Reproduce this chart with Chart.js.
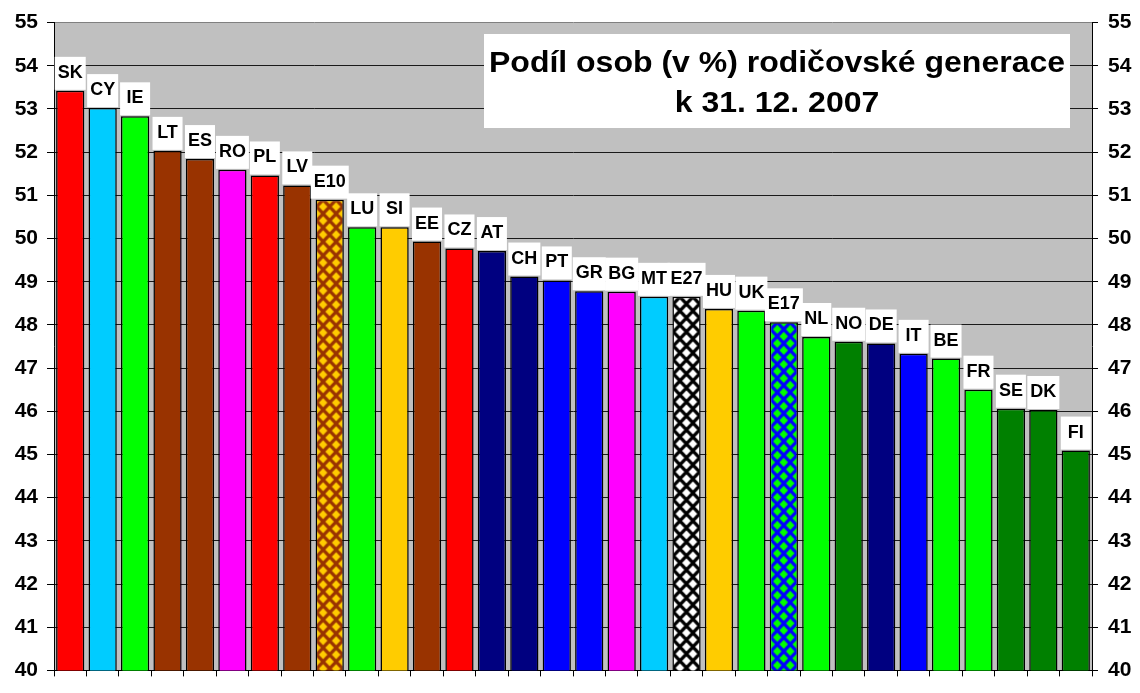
<!DOCTYPE html>
<html>
<head>
<meta charset="utf-8">
<script src="https://cdn.jsdelivr.net/npm/chart.js@4/dist/chart.umd.min.js"></script>
<style>
  html, body { margin: 0; padding: 0; background: #fff; }
  #wrap { width: 1140px; height: 693px; }
</style>
</head>
<body>
<div id="wrap"><canvas id="myChart" width="1140" height="693"></canvas></div>
<script>
// data
var countries = ['SK','CY','IE','LT','ES','RO','PL','LV','E10','LU','SI','EE','CZ','AT','CH','PT',
                 'GR','BG','MT','E27','HU','UK','E17','NL','NO','DE','IT','BE','FR','SE','DK','FI'];
var shares = [53.42,53.02,52.83,52.03,51.84,51.59,51.46,51.23,50.90,50.26,50.26,49.93,49.77,49.71,49.12,49.03,
              48.78,48.77,48.65,48.65,48.37,48.33,48.06,47.72,47.61,47.57,47.33,47.22,46.50,46.06,46.03,45.09];
var barColors = ['#FF0000','#00CCFF','#00FF00','#993300','#993300','#FF00FF','#FF0000','#993300','E10',
                 '#00FF00','#FFCC00','#993300','#FF0000','#000080','#000080','#0000FF',
                 '#0000FF','#FF00FF','#00CCFF','E27','#FFCC00','#00FF00','E17','#00FF00','#008000','#000080',
                 '#0000FF','#00FF00','#00FF00','#008000','#008000','#008000'];
var yMin = 40, yMax = 55, yStep = 1;
var titleLines = ['Podíl osob (v %) rodičovské generace', 'k 31. 12. 2007'];

// diamond patterns for the EU averages
function makePattern(bg, fg){
    var c = document.createElement('canvas');
    c.width = 13; c.height = 14;
    var g = c.getContext('2d');
    g.fillStyle = bg;
    g.fillRect(0, 0, 13, 14);
    g.fillStyle = fg;
    var centres = [[6.5,7],[0,0],[13,0],[0,14],[13,14]];
    centres.forEach(function(p){
        g.beginPath();
        g.moveTo(p[0], p[1]-4.6);
        g.lineTo(p[0]+4.3, p[1]);
        g.lineTo(p[0], p[1]+4.6);
        g.lineTo(p[0]-4.3, p[1]);
        g.closePath();
        g.fill();
    });
    return g.createPattern(c, 'repeat');
}
var ctx = document.getElementById('myChart').getContext('2d');
var patterns = {
    E10: makePattern('#993300', '#FFCC00'),
    E27: makePattern('#000000', '#FFFFFF'),
    E17: makePattern('#0000FF', '#00FF00')
};
var fills = barColors.map(function(c){ return patterns[c] || c; });

var FONT = 'Arial, "Liberation Sans", sans-serif';

var plotBg = {
    id: 'plotBg',
    beforeDraw: function(chart){
        var a = chart.chartArea, c = chart.ctx;
        c.save();
        c.fillStyle = '#C0C0C0';
        c.fillRect(a.left, a.top, a.right - a.left, a.bottom - a.top);
        c.restore();
    },
    beforeDatasetsDraw: function(chart){
        // line the patterns up with the bars
        var meta = chart.getDatasetMeta(0);
        barColors.forEach(function(c, i){
            if(patterns[c]){
                var el = meta.data[i];
                patterns[c].setTransform(new DOMMatrix([1,0,0,1, el.x - el.width/2 + 1, el.y]));
            }
        });
    }
};

// stretched text like the old spreadsheet export
function wideText(c, t, x, y, sx){
    c.save();
    c.translate(x, y);
    c.scale(sx, 1);
    c.fillText(t, 0, 0);
    c.restore();
}

var barLabels = {
    id: 'barLabels',
    afterDatasetsDraw: function(chart){
        var meta = chart.getDatasetMeta(0), c = chart.ctx;
        c.save();
        c.font = 'bold 18px ' + FONT;
        c.textAlign = 'center';
        c.textBaseline = 'middle';
        meta.data.forEach(function(el, i){
            var t = countries[i];
            var w = Math.max(30, c.measureText(t).width + 6);
            c.fillStyle = '#FFFFFF';
            c.fillRect(el.x - w/2, el.y - 34, w, 33);
            c.fillStyle = '#000000';
            c.fillText(t, el.x, el.y - 18);
        });
        // title box
        c.fillStyle = '#FFFFFF';
        c.fillRect(484, 34, 586, 94);
        c.fillStyle = '#000000';
        c.font = 'bold 29px ' + FONT;
        c.textBaseline = 'alphabetic';
        var sx = 576 / c.measureText(titleLines[0]).width;
        wideText(c, titleLines[0], 777, 72, sx);
        wideText(c, titleLines[1], 777, 112, sx);
        c.restore();
    }
};

var tickFont = { family: FONT, size: 21, weight: 'bold' };

var myChart = new Chart(ctx, {
    type: 'bar',
    data: {
        labels: countries,
        datasets: [{
            data: shares,
            backgroundColor: fills,
            borderColor: '#000000',
            borderWidth: 1.5,
            borderSkipped: false,
            categoryPercentage: 1,
            barPercentage: 0.87
        }]
    },
    options: {
        responsive: false,
        animation: false,
        layout: { padding: { top: 21, left: 0, right: 0, bottom: 0 } },
        plugins: { legend: { display: false }, tooltip: { enabled: false }, title: { display: false } },
        scales: {
            x: {
                ticks: { display: false },
                grid: { drawOnChartArea: false, tickLength: 6, color: '#000', offset: true },
                border: { color: '#000', width: 1 },
                afterFit: function(s){ s.height = 10; }
            },
            y: {
                position: 'left',
                min: yMin, max: yMax,
                ticks: { stepSize: yStep, color: '#000', font: tickFont, padding: 9 },
                grid: {
                    color: function(c){ return c.tick && c.tick.value === yMax ? '#808080' : '#1a1a1a'; },
                    tickColor: '#000', tickLength: 7, lineWidth: 1
                },
                border: { color: '#000', width: 1 },
                afterFit: function(s){ s.width = 54; }
            },
            y2: {
                position: 'right',
                min: yMin, max: yMax,
                ticks: { stepSize: yStep, color: '#000', font: tickFont, padding: 10 },
                grid: { drawOnChartArea: false, tickColor: '#000', tickLength: 6 },
                border: { color: '#000', width: 1 },
                afterFit: function(s){ s.width = 48; }
            }
        }
    },
    plugins: [plotBg, barLabels]
});
</script>
</body>
</html>
